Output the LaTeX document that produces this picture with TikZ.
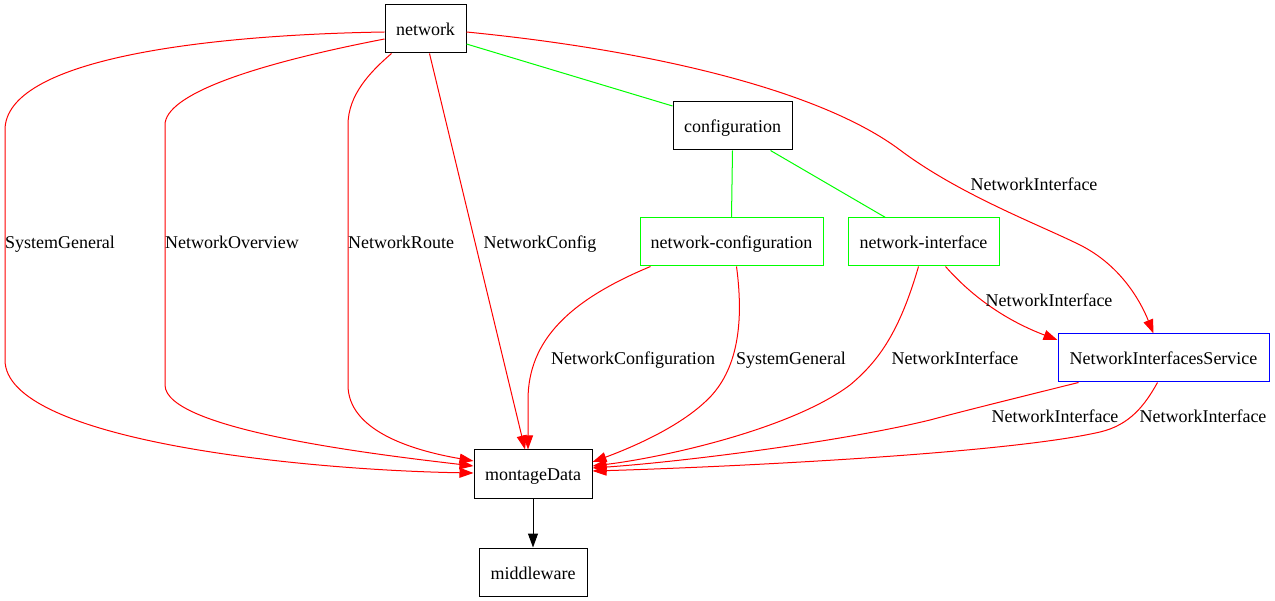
\documentclass[tikz,border=0pt]{standalone}
\usepackage{fontspec}
\setmainfont{Liberation Serif}
\usepackage{tikz}
\usetikzlibrary{arrows.meta,positioning,calc}
\definecolor{edgered}{HTML}{FF0000}
\definecolor{edgegreen}{HTML}{00FF00}
\definecolor{boxblue}{HTML}{0000FF}
\begin{document}
\begin{tikzpicture}[
    x=1pt, y=-1pt,
    box/.style={
      draw=#1, line width=1pt,
      font=\fontsize{18}{22}\selectfont,
      text height=18pt, text depth=4pt,
      minimum height=48pt, inner sep=0pt,
    },
    box/.default=black,
    link/.style={-{Triangle[length=14pt,width=10pt]}, line width=1pt, #1},
    tie/.style={line width=1pt, edgegreen},
    lbl/.style={font=\fontsize{18}{22}\selectfont, text height=18pt, text depth=4pt, inner sep=0pt},
  ]
  \useasboundingbox (0,0) rectangle (1275,601);

  % =================== Nodes ===================
  \node[box, minimum width=81pt] (network) at (425.5,29) {network};
  \node[box, minimum width=119pt] (configuration) at (732.5,126) {configuration};
  \node[box=edgegreen, minimum width=183pt] (netconf) at (731.5,242) {network-configuration};
  \node[box=edgegreen, minimum width=151pt] (netif) at (923.5,242) {network-interface};
  \node[box=boxblue, minimum width=211pt] (nis) at (1163.5,358) {NetworkInterfacesService};
  \node[box, minimum width=118pt] (montage) at (533,474) {montageData};
  \node[box, minimum width=108pt] (middleware) at (533,572) {middleware};

  % =================== Green ties ===================
  \draw[tie] ([yshift=-15pt]network.east) -- ([yshift=20pt]configuration.west);
  \draw[tie] (configuration.south) -- (netconf.north);
  \draw[tie] ([xshift=38pt]configuration.south) -- ([xshift=-38pt]netif.north);

  % =================== network -> montageData ===================
  \draw[link=edgered] ([yshift=-3pt]network.west)
    .. controls (200,35) and (5,60) .. (5,130) -- (5,360)
    .. controls (5,440) and (300,470) .. ([yshift=1pt]montage.west);
  \node[lbl] (lsys1) at (60,242) {SystemGeneral};

  \draw[link=edgered] ([yshift=-10pt]network.west)
    .. controls (250,65) and (165,95) .. (165,125) -- (165,385)
    .. controls (165,430) and (380,455) .. ([yshift=8pt]montage.west);
  \node[lbl] (lover) at (232,242) {NetworkOverview};

  \draw[link=edgered] ([xshift=-34pt]network.south)
    .. controls (370,72) and (348,95) .. (348,125) -- (348,385)
    .. controls (348,430) and (410,450) .. ([yshift=13pt]montage.west);
  \node[lbl] (lroute) at (401,242) {NetworkRoute};

  \draw[link=edgered] ([xshift=4pt]network.south) -- ([xshift=-8pt]montage.north);
  \node[lbl] (lconf) at (540,242) {NetworkConfig};

  % =================== network -> NetworkInterfacesService ===================
  \draw[link=edgered] ([yshift=-3pt]network.east)
    .. controls (650,50) and (820,90) .. (900,150)
    .. controls (960,195) and (1040,225) .. (1080,245)
    .. controls (1120,265) and (1140,300) .. ([xshift=-10pt]nis.north);
  \node[lbl] (lif1) at (1034,184) {NetworkInterface};

  % =================== network-configuration -> montageData ===================
  \draw[link=edgered] ([xshift=-81pt]netconf.south)
    .. controls (570,300) and (528,340) .. (528,400) -- ([xshift=-5pt]montage.north);
  \node[lbl] (lnetconf) at (633,358) {NetworkConfiguration};

  \draw[link=edgered] ([xshift=5pt]netconf.south)
    .. controls (745,330) and (735,375) .. (705,402)
    .. controls (675,430) and (625,450) .. ([yshift=12pt]montage.east);
  \node[lbl] (lsys2) at (791,358) {SystemGeneral};

  % =================== network-interface -> ... ===================
  \draw[link=edgered] ([xshift=-5pt]netif.south)
    .. controls (900,330) and (880,360) .. (850,385)
    .. controls (790,430) and (660,458) .. ([yshift=8pt]montage.east);
  \node[lbl] (lif2) at (955,358) {NetworkInterface};

  \draw[link=edgered] ([xshift=22pt]netif.south)
    .. controls (975,300) and (1010,322) .. ([yshift=18pt]nis.west);
  \node[lbl] (lif3) at (1049,300) {NetworkInterface};

  % =================== NetworkInterfacesService -> montageData ===================
  \draw[link=edgered] ([xshift=-85pt]nis.south)
    .. controls (1000,402) and (960,412) .. (930,420)
    .. controls (840,442) and (680,462) .. ([yshift=6pt]montage.east);
  \node[lbl] (lif4) at (1055,416) {NetworkInterface};

  \draw[link=edgered] ([xshift=-6pt]nis.south)
    .. controls (1145,405) and (1130,425) .. (1100,432)
    .. controls (1000,455) and (700,468) .. ([yshift=3pt]montage.east);
  \node[lbl] (lif5) at (1203,416) {NetworkInterface};

  % =================== montageData -> middleware ===================
  \draw[link=black] (montage) -- (middleware);
\end{tikzpicture}
\end{document}
